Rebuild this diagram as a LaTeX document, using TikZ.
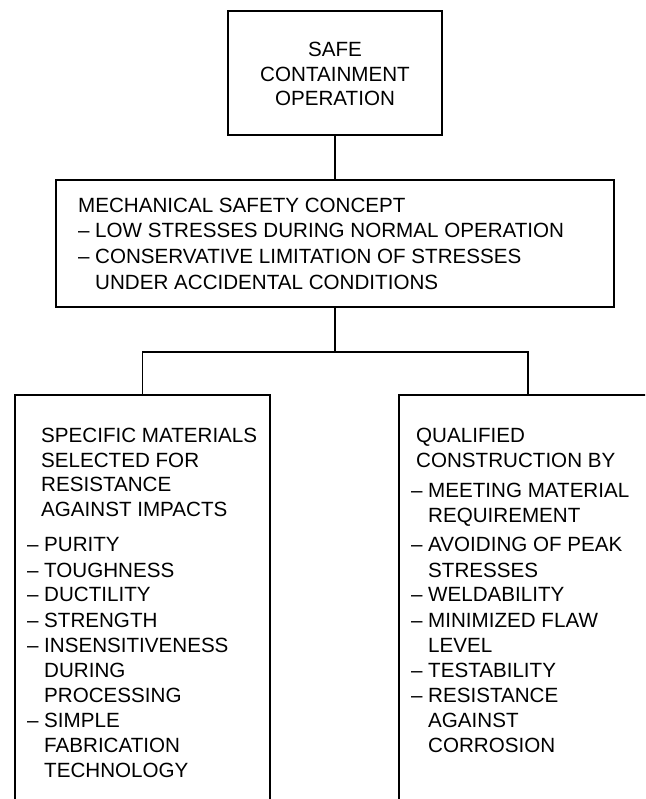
\documentclass[tikz,border=0pt]{standalone}
\usepackage{fontspec}
\setmainfont{Liberation Sans}
\newcommand\dsh{\llap{–\ }}
\begin{document}
\begin{tikzpicture}[x=1pt,y=1pt,
  box/.style={draw, line width=1.3pt, inner sep=0pt, outer sep=0pt},
  wire/.style={line width=1.3pt},
  txt/.style={inner sep=0pt, anchor=base west, font=\fontsize{20.6}{25}\selectfont},
  ctxt/.style={txt, anchor=base}]
\useasboundingbox (0,0) rectangle (645,-799);
\clip (0,0) rectangle (645,-799);
% boxes
\node[box, minimum width=214pt, minimum height=124pt] (top) at (335,-73) {};
\node[box, minimum width=558pt, minimum height=127pt] (mid) at (335,-243.5) {};
\node[box, minimum width=255pt, minimum height=420pt] (left) at (142.5,-605) {};
\node[box, minimum width=258pt, minimum height=420pt] (right) at (528,-605) {};
% connectors
\draw[wire] (top.south) -- (mid.north);
\draw[wire] (mid.south) -- ++(0,-45) coordinate (br);
\draw[wire] (br) -| (left.north);
\draw[wire] (br) -| (right.north);
% top text
\foreach \yy/\lbl [count=\i] in {57/SAFE, 82/CONTAINMENT, 106/OPERATION}
  \node[ctxt] (T\i) at (335,-\yy) {\lbl};
% middle text
\node[txt] (M1) at (78,-213) {MECHANICAL SAFETY CONCEPT};
\foreach \yy/\lbl [count=\i from 2] in {238/\dsh LOW STRESSES DURING NORMAL OPERATION,
    264/\dsh CONSERVATIVE LIMITATION OF STRESSES, 289/UNDER ACCIDENTAL CONDITIONS}
  \node[txt] (M\i) at (95,-\yy) {\lbl};
% left text
\foreach \yy/\lbl [count=\i] in {442/SPECIFIC MATERIALS, 467/SELECTED FOR, 491/RESISTANCE, 516/AGAINST IMPACTS}
  \node[txt] (LH\i) at (41,-\yy) {\lbl};
\foreach \yy/\lbl [count=\i] in {551/\dsh PURITY, 577/\dsh TOUGHNESS, 601/\dsh DUCTILITY,
    627/\dsh STRENGTH, 652/\dsh INSENSITIVENESS, 677/DURING, 702/PROCESSING,
    727/\dsh SIMPLE, 752/FABRICATION, 777/TECHNOLOGY}
  \node[txt] (L\i) at (44,-\yy) {\lbl};
% right text
\foreach \yy/\lbl [count=\i] in {442/QUALIFIED, 467/CONSTRUCTION BY}
  \node[txt] (RH\i) at (416,-\yy) {\lbl};
\foreach \yy/\lbl [count=\i] in {497/\dsh MEETING MATERIAL, 522/REQUIREMENT, 551/\dsh AVOIDING OF PEAK,
    577/STRESSES, 601/\dsh WELDABILITY, 627/\dsh MINIMIZED FLAW, 652/LEVEL,
    677/\dsh TESTABILITY, 702/\dsh RESISTANCE, 727/AGAINST, 752/CORROSION}
  \node[txt] (R\i) at (428,-\yy) {\lbl};
\end{tikzpicture}
\end{document}
